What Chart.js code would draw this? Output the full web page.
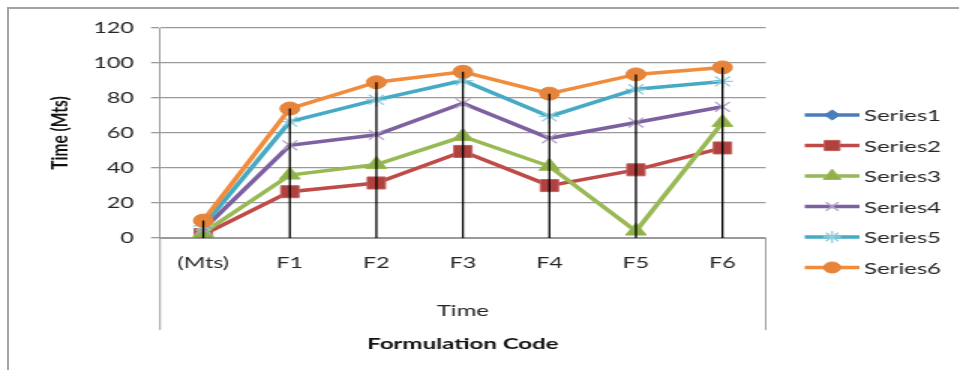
<!DOCTYPE html>
<html lang="en">
<head>
<meta charset="UTF-8" />
<title>Formulation Code</title>
<script src="https://cdn.jsdelivr.net/npm/chart.js"></script>
<style>
  html, body { margin: 0; padding: 0; background: #fff; }
  body { width: 959px; height: 370px; overflow: hidden; position: relative; }
  .frame { position: absolute; left: 7px; top: 7px; width: 1000px; height: 420px; border: 2px solid #a3a3a3; box-sizing: border-box; }
  /* the source picture is an Excel chart stretched sideways, so the canvas is too */
  .stretch { position: absolute; left: 0; top: 0; width: 639px; height: 370px; transform: scaleX(1.5); transform-origin: 0 0; }
</style>
</head>
<body>
<div class="frame"></div>
<div class="stretch"><canvas id="chart"></canvas></div>
<script>
const categories = ['(Mts)', 'F1', 'F2', 'F3', 'F4', 'F5', 'F6'];
const seriesNames = ['Series1', 'Series2', 'Series3', 'Series4', 'Series5', 'Series6'];
const series1 = [0, null, null, null, null, null, null];
const series2 = [2, 26.5, 31.5, 49.5, 30, 39, 51.5];
const series3 = [3, 36, 42, 58, 41, 4, 66];
const series4 = [5, 53, 59, 77, 57, 66, 75];
const series5 = [7, 66.5, 79, 90, 69.5, 85, 89.5];
const series6 = [10, 74, 89, 95, 82.5, 93.5, 97.5];
const yTicks = [0, 20, 40, 60, 80, 100, 120];

const FONT = 'Lato, "Open Sans", "Liberation Sans", sans-serif';
const TEXT = '#262626';
const GRID = '#9a9a9a';

const looks = [
  { color: '#4a7ebb', marker: 'rectRot', radius: 6, fill: '#4a7ebb', edge: '#4a7ebb' },
  { color: '#be4b48', marker: 'rect', radius: 8.5, fill: '#b0413e', edge: '#c0605d' },
  { color: '#98b954', marker: 'triangle', radius: 8, fill: '#8fb04c', edge: '#98b954' },
  { color: '#7d60a0', marker: 'crossRot', radius: 7, fill: '#b3a2c7', edge: '#b3a2c7' },
  { color: '#46aac5', marker: 'star', radius: 7, fill: '#93cddd', edge: '#93cddd' },
  { color: '#f08c3c', marker: 'circle', radius: 6.5, fill: '#e6843b', edge: '#e6843b' }
];

const allSeries = [series1, series2, series3, series4, series5, series6];

const datasets = allSeries.map((vals, i) => ({
  label: seriesNames[i],
  data: vals,
  borderColor: looks[i].color,
  backgroundColor: looks[i].color,
  borderWidth: 3.5,
  pointStyle: looks[i].marker,
  pointRadius: looks[i].radius,
  pointHoverRadius: looks[i].radius,
  pointBackgroundColor: looks[i].fill,
  pointBorderColor: looks[i].edge,
  pointBorderWidth: (looks[i].marker === 'crossRot' || looks[i].marker === 'star') ? 1.3 : 1,
  tension: 0,
  spanGaps: false,
  order: allSeries.length - i
}));

// black drop lines from the highest point of each category down to the axis
const dropLines = {
  id: 'dropLines',
  afterDatasetsDraw(chart) {
    const { ctx, scales: { x, y } } = chart;
    ctx.save();
    ctx.strokeStyle = '#000';
    ctx.lineWidth = 1.3;
    categories.forEach((c, i) => {
      const vals = allSeries.map(s => s[i]).filter(v => v != null);
      if (!vals.length) return;
      const top = Math.max(...vals);
      const px = x.getPixelForValue(i);
      ctx.beginPath();
      ctx.moveTo(px, y.getPixelForValue(top));
      ctx.lineTo(px, y.getPixelForValue(0));
      ctx.stroke();
    });
    ctx.restore();
  }
};

// group bracket of the two level category axis
const groupBracket = {
  id: 'groupBracket',
  afterDraw(chart) {
    const { ctx, scales: { x } } = chart;
    ctx.save();
    ctx.strokeStyle = GRID;
    ctx.lineWidth = 1;
    [x.left, x.right].forEach(px => {
      ctx.beginPath();
      ctx.moveTo(px, x.top);
      ctx.lineTo(px, x.bottom);
      ctx.stroke();
    });
    ctx.restore();
  }
};

// Excel style legend: line with the marker in its middle
const sideLegend = {
  id: 'sideLegend',
  afterDraw(chart) {
    const { ctx, chartArea } = chart;
    const x0 = chartArea.right + 26, x1 = chartArea.right + 62.5, tx = chartArea.right + 65.5;
    ctx.save();
    chart.data.datasets.forEach((ds, i) => {
      const yy = 115 + i * 30.5;
      ctx.strokeStyle = ds.borderColor;
      ctx.lineWidth = 3.5;
      ctx.beginPath();
      ctx.moveTo(x0, yy);
      ctx.lineTo(x1, yy);
      ctx.stroke();
      ctx.fillStyle = ds.pointBackgroundColor;
      ctx.strokeStyle = ds.pointBorderColor;
      ctx.lineWidth = ds.pointBorderWidth;
      Chart.helpers.drawPoint(ctx, { pointStyle: ds.pointStyle, radius: ds.pointRadius * 0.85, rotation: 0, borderWidth: ds.pointBorderWidth }, (x0 + x1) / 2, yy);
      ctx.fillStyle = TEXT;
      ctx.font = '16px ' + FONT;
      ctx.textBaseline = 'middle';
      ctx.textAlign = 'left';
      ctx.fillText(ds.label, tx, yy + 1);
    });
    ctx.restore();
  }
};

new Chart(document.getElementById('chart'), {
  type: 'line',
  data: { labels: categories, datasets: datasets },
  plugins: [dropLines, groupBracket, sideLegend],
  options: {
    responsive: true,
    maintainAspectRatio: false,
    animation: false,
    devicePixelRatio: 1,
    layout: { padding: { top: 28, right: 128.5, left: 0, bottom: 0 } },
    plugins: {
      legend: { display: false },
      tooltip: { enabled: false },
      title: {
        display: true,
        position: 'bottom',
        fullSize: false,
        text: 'Formulation Code',
        color: '#111',
        font: { family: FONT, size: 16, weight: 'bold', lineHeight: 1.2 },
        padding: { top: 3.7, bottom: 17 }
      }
    },
    scales: {
      x: {
        offset: true,
        grid: { display: false, drawTicks: false },
        border: { display: true, color: GRID, width: 1 },
        ticks: { color: TEXT, padding: 16, font: { family: FONT, size: 15.5, lineHeight: 1.2 }, maxRotation: 0 },
        title: {
          display: true,
          text: 'Time',
          color: TEXT,
          font: { family: FONT, size: 16, lineHeight: 1.2 },
          padding: { top: 12.5, bottom: 9.7 }
        }
      },
      y: {
        min: yTicks[0],
        max: yTicks[yTicks.length - 1],
        afterBuildTicks: scale => { scale.ticks = yTicks.map(v => ({ value: v })); },
        afterFit: scale => { scale.width = 106.7; },
        grid: { color: GRID, lineWidth: 1.3, tickLength: 6, drawTicks: true },
        border: { display: true, color: GRID, width: 1 },
        ticks: { color: TEXT, padding: 11.4, font: { family: FONT, size: 15.5 } },
        title: {
          display: true,
          text: 'Time (Mts)',
          color: '#111',
          font: { family: FONT, size: 15.5, weight: 'bold', lineHeight: 1.2 },
          padding: { top: 30.7, bottom: 0 }
        }
      }
    }
  }
});
</script>
</body>
</html>
